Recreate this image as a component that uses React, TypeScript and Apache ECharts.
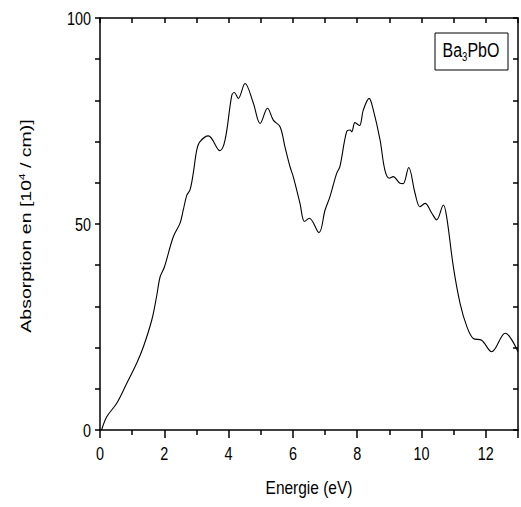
import React, { useEffect, useRef } from "react";
import * as echarts from "echarts";

const energy = [0.05,0.21,0.52,0.83,1.14,1.35,1.61,1.76,1.87,2.0,2.28,2.49,2.59,2.7,2.8,2.9,3.01,3.11,3.37,3.73,3.89,4.1,4.18,4.3,4.51,4.77,4.98,5.21,5.39,5.6,5.75,5.91,6.01,6.22,6.36,6.51,6.81,7.0,7.15,7.36,7.46,7.67,7.78,7.83,7.93,8.07,8.19,8.37,8.5,8.71,8.86,9.0,9.12,9.33,9.43,9.6,9.8,9.95,10.11,10.32,10.47,10.68,10.78,10.99,11.2,11.41,11.61,11.87,12.18,12.6,13.0];
const absorption = [0,3.2,6.5,11.3,16.2,20.2,26.7,32.4,37.2,39.5,46.9,50.2,53.4,57,58.3,62.3,68,70,71.4,67.8,70.4,81.3,81.9,80.5,84.1,79.3,74.4,78.1,75.2,73.6,68.8,63.9,61.5,55,50.6,51.4,47.9,53.4,56.6,62.3,63.9,72.4,72.8,72.4,74.6,73.9,77.7,80.5,77.7,70.4,63.1,61.1,61.5,59.9,59.8,63.7,57.4,54.2,55,52.6,51,54.6,51.8,39.6,30.7,25.1,22.2,21.8,19,23.5,19];
const xTickLabels = [0, 2, 4, 6, 8, 10, 12];
const yTickLabels = [0, 50, 100];
const xTitle = "Energie (eV)";
const yTitle = "Absorption en [10{sup|4} / cm)]";
const legendText = "Ba{sub|3}PbO";

export default function App() {
  const ref = useRef<HTMLDivElement>(null);
  useEffect(() => {
    if (!ref.current) return;
    const chart = echarts.init(ref.current, null, { renderer: "svg" });
    const font = "Liberation Sans, Arial, sans-serif";
    const axisLine = { show: true, onZero: false, lineStyle: { color: "#000", width: 1.5 } };
    const tickStyle = { color: "#000", width: 1.5 };
    chart.setOption({
      animation: false,
      backgroundColor: "#fff",
      grid: { left: 100, right: 3, top: 18, bottom: 77, containLabel: false },
      xAxis: [
        {
          type: "value", min: 0, max: 13, interval: 2,
          axisLine, splitLine: { show: false },
          axisTick: { show: true, inside: false, length: 8, lineStyle: tickStyle },
          minorTick: { show: true, splitNumber: 2, length: 5, lineStyle: tickStyle },
          axisLabel: { show: false },
        },
        {
          type: "value", position: "top", min: 0, max: 13, interval: 1,
          axisLine, splitLine: { show: false },
          axisTick: { show: true, inside: true, length: 5, lineStyle: tickStyle },
          axisLabel: { show: false },
        },
      ],
      yAxis: [
        {
          type: "value", min: 0, max: 100, interval: 10,
          axisLine, splitLine: { show: false },
          axisTick: { show: true, inside: false, length: 5, lineStyle: tickStyle },
          axisLabel: { show: false },
        },
        {
          type: "value", position: "right", min: 0, max: 100, interval: 10,
          axisLine, splitLine: { show: false },
          axisTick: { show: true, inside: true, length: 5, lineStyle: tickStyle },
          axisLabel: { show: false },
        },
      ],
      series: [
        {
          type: "line", xAxisIndex: 0, yAxisIndex: 0,
          data: energy.map((x, i) => [x, absorption[i]]),
          smooth: 0.35, showSymbol: false, symbol: "none",
          lineStyle: { color: "#000", width: 1.1 },
        },
      ],
    });

    const px = (v: number) => chart.convertToPixel({ xAxisIndex: 0 }, v) as number;
    const py = (v: number) => chart.convertToPixel({ yAxisIndex: 0 }, v) as number;
    const baseY = py(0);
    const leftX = px(0);
    const graphics: any[] = [];
    xTickLabels.forEach((v) => {
      graphics.push({
        type: "text", x: px(v), y: baseY + 23, scaleX: 0.8,
        style: { text: String(v), fill: "#000", fontSize: 18, fontFamily: font, align: "center", verticalAlign: "middle" },
      });
    });
    yTickLabels.forEach((v) => {
      graphics.push({
        type: "text", x: leftX - 9, y: py(v), scaleX: 0.8,
        style: { text: String(v), fill: "#000", fontSize: 18, fontFamily: font, align: "right", verticalAlign: "middle" },
      });
    });
    graphics.push({
      type: "text", x: (px(0) + px(13)) / 2, y: baseY + 58, scaleX: 0.86,
      style: { text: xTitle, fill: "#000", fontSize: 18, fontFamily: font, align: "center", verticalAlign: "middle" },
    });
    graphics.push({
      type: "text", x: 26, y: (py(0) + py(100)) / 2 + 2, rotation: Math.PI / 2, scaleX: 1.3,
      style: {
        text: yTitle, fill: "#000", fontSize: 15, fontFamily: font, align: "center", verticalAlign: "middle",
        rich: { sup: { fontSize: 9, fontFamily: font, fill: "#000", padding: [0, 0, 9, 0] } },
      },
    });
    graphics.push({
      type: "rect", x: 435, y: 33, shape: { width: 73, height: 37 },
      style: { fill: "#fff", stroke: "#000", lineWidth: 1 },
    });
    graphics.push({
      type: "text", x: 471, y: 50, scaleX: 0.8,
      style: {
        text: legendText, fill: "#000", fontSize: 20, fontFamily: font, align: "center", verticalAlign: "middle",
        rich: { sub: { fontSize: 12, fontFamily: font, fill: "#000", padding: [14, 0, 0, 0] } },
      },
    });
    chart.setOption({ graphic: graphics });
    return () => chart.dispose();
  }, []);
  return <div ref={ref} style={{ position: "fixed", left: 0, top: 0, width: 521, height: 507 }} />;
}
